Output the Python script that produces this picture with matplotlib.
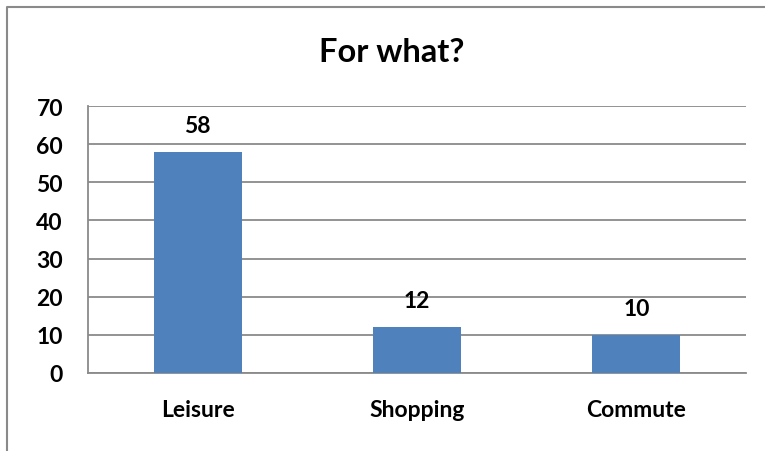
import matplotlib.pyplot as plt
from matplotlib.lines import Line2D

categories = ['Leisure', 'Shopping', 'Commute']
counts = [58, 12, 10]
yticks = [0, 10, 20, 30, 40, 50, 60, 70]

plt.rcParams['font.family'] = ['Lato', 'DejaVu Sans']

fig = plt.figure(figsize=(7.65, 4.52), dpi=100)
ax = fig.add_axes([88 / 765, 1 - 374 / 452, (746 - 88) / 765, (374 - 107) / 452])

# outer chart border: only left and top edges show in the reference
bx, by = 7 / 765, 1 - 8 / 452
fig.lines.append(Line2D([bx, bx, 1.0], [0.0, by, by], transform=fig.transFigure,
                        color='#8a8a8a', lw=1.5))

x = range(len(categories))
bars = ax.bar(x, counts, width=0.4, color='#4F81BD', zorder=3)

for xi, v in zip(x, counts):
    ax.annotate(str(v), (xi, v), xytext=(0, 19), textcoords='offset points',
                ha='center', va='center', fontsize=16.5, fontweight='bold')

ax.set_xlim(-0.5, 2.5)
ax.set_ylim(0, 70)
ax.set_yticks(yticks)
ax.set_xticks(list(x))
ax.set_xticklabels(categories)
ax.grid(axis='y', color='#8a8a8a', lw=1.3, zorder=0)
for s in ['top', 'right']:
    ax.spines[s].set_visible(False)
ax.spines['left'].set_color('#8a8a8a')
ax.spines['bottom'].set_color('#8a8a8a')
ax.spines['left'].set_linewidth(1.3)
ax.spines['bottom'].set_linewidth(1.3)
ax.tick_params(axis='y', length=0, pad=18, labelsize=16.5)
ax.tick_params(axis='x', length=0, pad=19, labelsize=16.5)
for lab in ax.get_xticklabels() + ax.get_yticklabels():
    lab.set_fontweight('bold')

fig.text(392 / 765, 1 - 53 / 452, 'For what?', ha='center', va='center',
         fontsize=23.5, fontweight='bold')

fig.savefig('out.png', dpi=100)
